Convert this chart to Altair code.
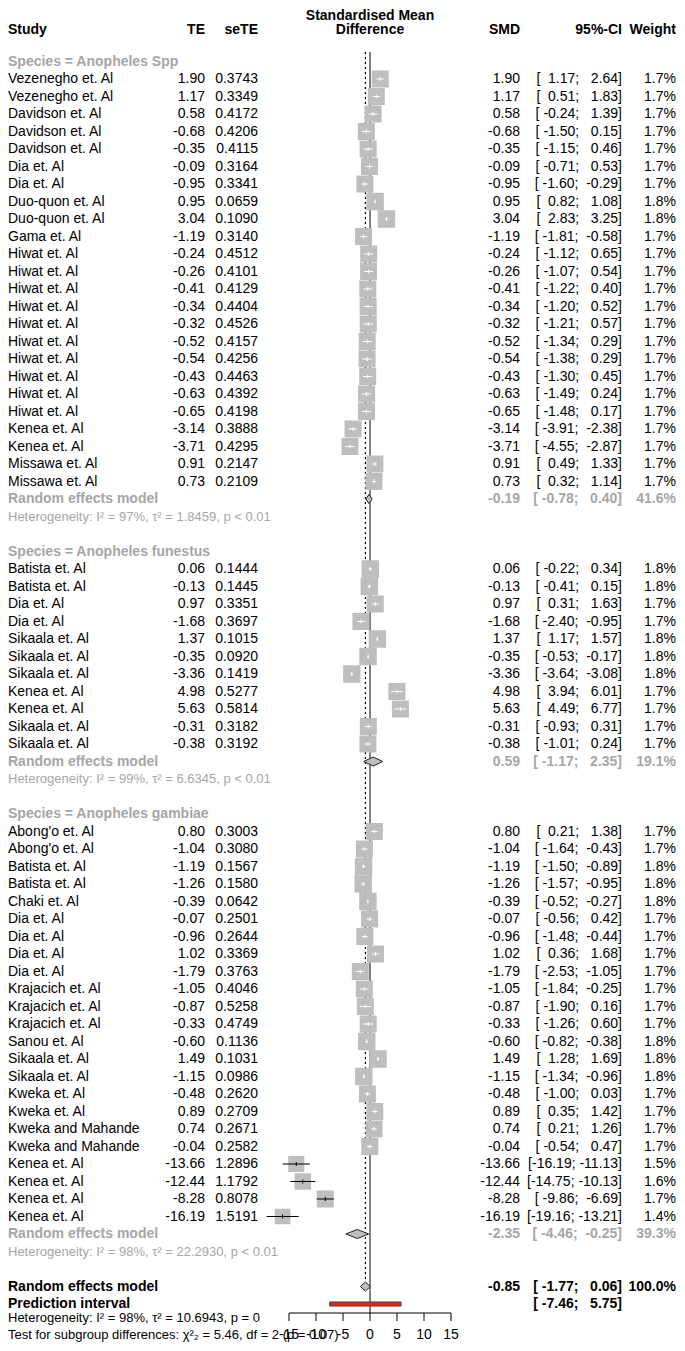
import altair as alt
import pandas as pd
import numpy as np

# ------------------------------------------------------------------ data
groups = ["Species = Anopheles Spp", "Species = Anopheles funestus", "Species = Anopheles gambiae"]

spp_study = ["Vezenegho et. Al", "Vezenegho et. Al", "Davidson et. Al", "Davidson et. Al", "Davidson et. Al",
             "Dia et. Al", "Dia et. Al", "Duo-quon et. Al", "Duo-quon et. Al", "Gama et. Al",
             "Hiwat et. Al", "Hiwat et. Al", "Hiwat et. Al", "Hiwat et. Al", "Hiwat et. Al",
             "Hiwat et. Al", "Hiwat et. Al", "Hiwat et. Al", "Hiwat et. Al", "Hiwat et. Al",
             "Kenea et. Al", "Kenea et. Al", "Missawa et. Al", "Missawa et. Al"]
spp_te = [1.90, 1.17, 0.58, -0.68, -0.35, -0.09, -0.95, 0.95, 3.04, -1.19, -0.24, -0.26, -0.41, -0.34,
          -0.32, -0.52, -0.54, -0.43, -0.63, -0.65, -3.14, -3.71, 0.91, 0.73]
spp_sete = [0.3743, 0.3349, 0.4172, 0.4206, 0.4115, 0.3164, 0.3341, 0.0659, 0.1090, 0.3140, 0.4512, 0.4101,
            0.4129, 0.4404, 0.4526, 0.4157, 0.4256, 0.4463, 0.4392, 0.4198, 0.3888, 0.4295, 0.2147, 0.2109]
spp_lo = [1.17, 0.51, -0.24, -1.50, -1.15, -0.71, -1.60, 0.82, 2.83, -1.81, -1.12, -1.07, -1.22, -1.20,
          -1.21, -1.34, -1.38, -1.30, -1.49, -1.48, -3.91, -4.55, 0.49, 0.32]
spp_hi = [2.64, 1.83, 1.39, 0.15, 0.46, 0.53, -0.29, 1.08, 3.25, -0.58, 0.65, 0.54, 0.40, 0.52,
          0.57, 0.29, 0.29, 0.45, 0.24, 0.17, -2.38, -2.87, 1.33, 1.14]
spp_w = [1.7, 1.7, 1.7, 1.7, 1.7, 1.7, 1.7, 1.8, 1.8, 1.7, 1.7, 1.7, 1.7, 1.7, 1.7, 1.7, 1.7, 1.7,
         1.7, 1.7, 1.7, 1.7, 1.7, 1.7]

fun_study = ["Batista et. Al", "Batista et. Al", "Dia et. Al", "Dia et. Al", "Sikaala et. Al",
             "Sikaala et. Al", "Sikaala et. Al", "Kenea et. Al", "Kenea et. Al", "Sikaala et. Al",
             "Sikaala et. Al"]
fun_te = [0.06, -0.13, 0.97, -1.68, 1.37, -0.35, -3.36, 4.98, 5.63, -0.31, -0.38]
fun_sete = [0.1444, 0.1445, 0.3351, 0.3697, 0.1015, 0.0920, 0.1419, 0.5277, 0.5814, 0.3182, 0.3192]
fun_lo = [-0.22, -0.41, 0.31, -2.40, 1.17, -0.53, -3.64, 3.94, 4.49, -0.93, -1.01]
fun_hi = [0.34, 0.15, 1.63, -0.95, 1.57, -0.17, -3.08, 6.01, 6.77, 0.31, 0.24]
fun_w = [1.8, 1.8, 1.7, 1.7, 1.8, 1.8, 1.8, 1.7, 1.7, 1.7, 1.7]

gam_study = ["Abong'o et. Al", "Abong'o et. Al", "Batista et. Al", "Batista et. Al", "Chaki et. Al",
             "Dia et. Al", "Dia et. Al", "Dia et. Al", "Dia et. Al", "Krajacich et. Al",
             "Krajacich et. Al", "Krajacich et. Al", "Sanou et. Al", "Sikaala et. Al", "Sikaala et. Al",
             "Kweka et. Al", "Kweka et. Al", "Kweka and Mahande", "Kweka and Mahande",
             "Kenea et. Al", "Kenea et. Al", "Kenea et. Al", "Kenea et. Al"]
gam_te = [0.80, -1.04, -1.19, -1.26, -0.39, -0.07, -0.96, 1.02, -1.79, -1.05, -0.87, -0.33, -0.60,
          1.49, -1.15, -0.48, 0.89, 0.74, -0.04, -13.66, -12.44, -8.28, -16.19]
gam_sete = [0.3003, 0.3080, 0.1567, 0.1580, 0.0642, 0.2501, 0.2644, 0.3369, 0.3763, 0.4046, 0.5258,
            0.4749, 0.1136, 0.1031, 0.0986, 0.2620, 0.2709, 0.2671, 0.2582, 1.2896, 1.1792, 0.8078, 1.5191]
gam_lo = [0.21, -1.64, -1.50, -1.57, -0.52, -0.56, -1.48, 0.36, -2.53, -1.84, -1.90, -1.26, -0.82,
          1.28, -1.34, -1.00, 0.35, 0.21, -0.54, -16.19, -14.75, -9.86, -19.16]
gam_hi = [1.38, -0.43, -0.89, -0.95, -0.27, 0.42, -0.44, 1.68, -1.05, -0.25, 0.16, 0.60, -0.38,
          1.69, -0.96, 0.03, 1.42, 1.26, 0.47, -11.13, -10.13, -6.69, -13.21]
gam_w = [1.7, 1.7, 1.8, 1.8, 1.8, 1.7, 1.7, 1.7, 1.7, 1.7, 1.7, 1.7, 1.8, 1.8, 1.8, 1.7, 1.7, 1.7,
         1.7, 1.5, 1.6, 1.7, 1.4]

re_est = [-0.19, 0.59, -2.35]
re_lo = [-0.78, -1.17, -4.46]
re_hi = [0.40, 2.35, -0.25]
re_w = [41.6, 19.1, 39.3]
het_i2 = [97, 99, 98]
het_tau2 = ["1.8459", "6.6345", "22.2930"]
het_p = ["< 0.01", "< 0.01", "< 0.01"]

overall_est, overall_lo, overall_hi, overall_w = -0.85, -1.77, 0.06, 100.0
pred_lo, pred_hi = -7.46, 5.75
overall_het = "Heterogeneity: I² = 98%, τ² = 10.6943, p = 0"
test_text = "Test for subgroup differences: χ²₂ = 5.46, df = 2 (p = 0.07)"
axis_ticks = [-15, -10, -5, 0, 5, 10, 15]

# ------------------------------------------------------------------ layout helpers
FONT = "Liberation Sans"
GRAY = "#A6A6A6"
BOX = "#BEBEBE"
W, H = 669, 1335
ROW0, ROWH = 53.5, 17.5        # chart-pixel position of row 0 and row height
ZERO_PX, PX_PER_UNIT = 362, 5.4


def prow(page_y):
    """row coordinate for a page-pixel y"""
    return (page_y - 8 - ROW0) / ROWH


YS = alt.Scale(domain=[-ROW0 / ROWH, (H - ROW0) / ROWH], reverse=True, nice=False, zero=False)
XS = alt.Scale(domain=[-ZERO_PX / PX_PER_UNIT, (W - ZERO_PX) / PX_PER_UNIT], nice=False, zero=False)
NB = "\u00a0"


def fci(lo, hi):
    return ("[" + f"{lo:6.2f}" + "; " + f"{hi:6.2f}" + "]").replace(" ", NB)


study_sets = [
    (spp_study, spp_te, spp_sete, spp_lo, spp_hi, spp_w),
    (fun_study, fun_te, fun_sete, fun_lo, fun_hi, fun_w),
    (gam_study, gam_te, gam_sete, gam_lo, gam_hi, gam_w),
]

study_rows, group_rows, sub_rows, het_rows, diamonds = [], [], [], [], []
r = 0
for gi, (st, te, se, lo, hi, w) in enumerate(study_sets):
    group_rows.append({"row": r, "label": groups[gi]})
    r += 1
    for i in range(len(st)):
        study_rows.append({"row": r, "study": st[i], "te": te[i], "sete": se[i], "lo": lo[i],
                           "hi": hi[i], "w": w[i]})
        r += 1
    sub_rows.append({"row": r, "label": "Random effects model", "smd": f"{re_est[gi]:.2f}",
                     "ci": fci(re_lo[gi], re_hi[gi]), "wt": f"{re_w[gi]:.1f}%"})
    for xv, a, b in [(re_lo[gi], r, r), (re_est[gi], r - 0.26, r + 0.26), (re_hi[gi], r, r)]:
        diamonds.append({"id": gi, "x": xv, "ya": a, "yb": b})
    r += 1
    het_rows.append({"row": r, "label": f"Heterogeneity: I² = {het_i2[gi]}%, τ² = {het_tau2[gi]}, p {het_p[gi]}"})
    r += 2

ov_row = r          # overall random effects
pi_row = r + 1      # prediction interval
for xv, a, b in [(overall_lo, ov_row, ov_row), (overall_est, ov_row - 0.26, ov_row + 0.26),
                 (overall_hi, ov_row, ov_row)]:
    diamonds.append({"id": 9, "x": xv, "ya": a, "yb": b})

sdf = pd.DataFrame(study_rows)
sdf["te_s"] = sdf["te"].map(lambda v: f"{v:.2f}")
sdf["sete_s"] = sdf["sete"].map(lambda v: f"{v:.4f}")
sdf["ci_s"] = [fci(a, b) for a, b in zip(sdf["lo"], sdf["hi"])]
sdf["w_s"] = sdf["w"].map(lambda v: f"{v:.1f}%")
box_half = np.sqrt(sdf["w"] * 225 / 1.7) / 2
ci_half = (sdf["hi"] - sdf["lo"]) / 2 * PX_PER_UNIT
sdf["lc"] = np.where(ci_half < box_half, "white", "black")
sdf["ra"] = sdf["row"] - 0.115
sdf["rb"] = sdf["row"] + 0.115

gdf = pd.DataFrame(group_rows)
subdf = pd.DataFrame(sub_rows)
hdf = pd.DataFrame(het_rows)
ddf = pd.DataFrame(diamonds)

ov_df = pd.DataFrame([{"row": ov_row, "label": "Random effects model", "smd": f"{overall_est:.2f}",
                       "ci": fci(overall_lo, overall_hi), "wt": f"{overall_w:.1f}%"},
                      {"row": pi_row, "label": "Prediction interval", "smd": "",
                       "ci": fci(pred_lo, pred_hi), "wt": ""}])
bottom_df = pd.DataFrame([{"row": prow(1318), "label": overall_het}, {"row": prow(1335), "label": test_text}])

AXIS_ROW = prow(1313)
tick_df = pd.DataFrame({"t": axis_ticks, "ya": AXIS_ROW, "yb": prow(1321), "lab_row": prow(1335),
                        "lab": [str(v) for v in axis_ticks]})
axis_df = pd.DataFrame([{"x": min(axis_ticks), "x2": max(axis_ticks), "y": AXIS_ROW}])
zero_df = pd.DataFrame([{"x": 0.0, "ya": prow(52), "yb": AXIS_ROW}])
dot_df = pd.DataFrame([{"x": overall_est, "ya": prow(52), "yb": ov_row - 0.27}])
pi_df = pd.DataFrame([{"lo": pred_lo, "hi": pred_hi, "ya": pi_row - 0.12, "yb": pi_row + 0.12}])

hdr1 = pd.DataFrame([{"row": prow(16), "label": "Standardised Mean"}])
hdr2 = pd.DataFrame([{"row": prow(30), "study": "Study", "te": "TE", "sete": "seTE", "fp": "Difference",
                      "smd": "SMD", "ci": "95%-CI", "w": "Weight"}])

X_TE, X_SE, X_MID, X_SMD, X_CI, X_W = 197, 250, 362, 512, 614, 668


def txt(df, field, x, align="right", weight="normal", color="black", size=14):
    return alt.Chart(df).mark_text(align=align, baseline="middle", font=FONT, fontSize=size,
                                   fontWeight=weight, color=color).encode(
        x=alt.value(x), y=alt.Y("row:Q", scale=YS, axis=None), text=alt.Text(f"{field}:N"))


layers = []
# reference lines
layers.append(alt.Chart(zero_df).mark_rule(color="black", strokeWidth=1).encode(
    x=alt.X("x:Q", scale=XS, axis=None), y=alt.Y("ya:Q", scale=YS, axis=None), y2="yb:Q"))
layers.append(alt.Chart(dot_df).mark_rule(color="black", strokeWidth=1.2, strokeDash=[2, 3]).encode(
    x=alt.X("x:Q", scale=XS, axis=None), y=alt.Y("ya:Q", scale=YS, axis=None), y2="yb:Q"))
# squares
layers.append(alt.Chart(sdf).mark_square(color=BOX, opacity=1, stroke=BOX).encode(
    x=alt.X("te:Q", scale=XS, axis=None), y=alt.Y("row:Q", scale=YS, axis=None),
    size=alt.Size("w:Q", scale=alt.Scale(type="linear", domain=[0, 1.7], range=[0, 225]), legend=None)))
# CI lines and estimate ticks
layers.append(alt.Chart(sdf).mark_rule(strokeWidth=1).encode(
    x=alt.X("lo:Q", scale=XS, axis=None), x2="hi:Q", y=alt.Y("row:Q", scale=YS, axis=None),
    color=alt.Color("lc:N", scale=None)))
layers.append(alt.Chart(sdf).mark_rule(strokeWidth=1).encode(
    x=alt.X("te:Q", scale=XS, axis=None), y=alt.Y("ra:Q", scale=YS, axis=None), y2="rb:Q",
    color=alt.Color("lc:N", scale=None)))
# diamonds
layers.append(alt.Chart(ddf).mark_area(color=BOX, stroke="#222222", strokeWidth=1, opacity=1,
                                       fillOpacity=1).encode(
    x=alt.X("x:Q", scale=XS, axis=None), y=alt.Y("ya:Q", scale=YS, axis=None), y2="yb:Q",
    detail="id:N"))
# prediction interval
layers.append(alt.Chart(pi_df).mark_rect(color="#DD2A1B", stroke="#333333", strokeWidth=0.8).encode(
    x=alt.X("lo:Q", scale=XS, axis=None), x2="hi:Q", y=alt.Y("ya:Q", scale=YS, axis=None), y2="yb:Q"))
# axis
layers.append(alt.Chart(axis_df).mark_rule(color="black").encode(
    x=alt.X("x:Q", scale=XS, axis=None), x2="x2:Q", y=alt.Y("y:Q", scale=YS, axis=None)))
layers.append(alt.Chart(tick_df).mark_rule(color="black").encode(
    x=alt.X("t:Q", scale=XS, axis=None), y=alt.Y("ya:Q", scale=YS, axis=None), y2="yb:Q"))
layers.append(alt.Chart(tick_df).mark_text(font=FONT, fontSize=14, baseline="middle", align="center",
                                           color="black").encode(
    x=alt.X("t:Q", scale=XS, axis=None), y=alt.Y("lab_row:Q", scale=YS, axis=None), text="lab:N"))

# headers
layers.append(txt(hdr1, "label", X_MID, "center", "bold"))
layers.append(txt(hdr2, "study", 0, "left", "bold"))
layers.append(txt(hdr2, "te", X_TE, "right", "bold"))
layers.append(txt(hdr2, "sete", X_SE, "right", "bold"))
layers.append(txt(hdr2, "fp", X_MID, "center", "bold"))
layers.append(txt(hdr2, "smd", X_SMD, "right", "bold"))
layers.append(txt(hdr2, "ci", X_CI, "right", "bold"))
layers.append(txt(hdr2, "w", X_W, "right", "bold"))

# group headers
layers.append(txt(gdf, "label", 0, "left", "bold", GRAY))
# study rows
layers.append(txt(sdf, "study", 0, "left"))
layers.append(txt(sdf, "te_s", X_TE))
layers.append(txt(sdf, "sete_s", X_SE))
layers.append(txt(sdf, "te_s", X_SMD))
layers.append(txt(sdf, "ci_s", X_CI))
layers.append(txt(sdf, "w_s", X_W))
# subgroup summaries
layers.append(txt(subdf, "label", 0, "left", "bold", GRAY))
layers.append(txt(subdf, "smd", X_SMD, "right", "bold", GRAY))
layers.append(txt(subdf, "ci", X_CI, "right", "bold", GRAY))
layers.append(txt(subdf, "wt", X_W, "right", "bold", GRAY))
layers.append(txt(hdf, "label", 0, "left", "normal", GRAY, 13))
# overall
layers.append(txt(ov_df, "label", 0, "left", "bold"))
layers.append(txt(ov_df, "smd", X_SMD, "right", "bold"))
layers.append(txt(ov_df, "ci", X_CI, "right", "bold"))
layers.append(txt(ov_df, "wt", X_W, "right", "bold"))
layers.append(txt(bottom_df, "label", 0, "left", "normal", "black", 13))

chart = alt.layer(*layers).properties(
    width=W, height=H, padding=0, autosize=alt.AutoSizeParams(type="none")
).configure_view(stroke=None)

chart.save("out.html", embed_options={"renderer": "svg", "actions": False})
